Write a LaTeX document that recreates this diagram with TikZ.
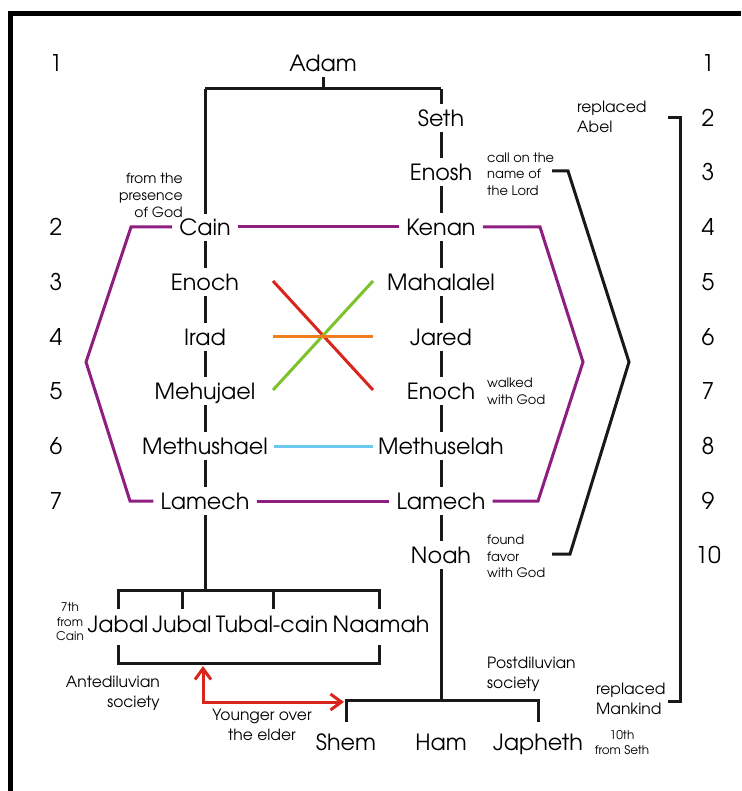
\documentclass[tikz,border=0pt]{standalone}
\usepackage{fontspec}
\setmainfont{TeX Gyre Adventor}
\usetikzlibrary{arrows.meta}
\definecolor{lpurple}{RGB}{142,31,128}
\definecolor{lred}{RGB}{218,37,29}
\definecolor{lgreen}{RGB}{124,194,42}
\definecolor{lorange}{RGB}{240,125,30}
\definecolor{lblue}{RGB}{109,200,240}
\begin{document}
\begin{tikzpicture}[x=1pt,y=-1pt,
  nm/.style={font=\fontsize{22.3}{24}\selectfont, text height=17pt, text depth=0pt, inner xsep=7pt, inner ysep=5.5pt},
  num/.style={font=\fontsize{23}{24}\selectfont, text height=17pt, text depth=0pt, inner sep=0pt},
  note/.style={font=\fontsize{13}{16.5}\selectfont, inner sep=0pt},
  midnote/.style={font=\fontsize{15.5}{20}\selectfont, inner sep=0pt},
  tiny/.style={font=\fontsize{12}{14.5}\selectfont, inner sep=0pt, align=center},
  tree/.style={line width=3pt, black!90},
  fam/.style={line width=3pt, lpurple},
  cross/.style={line width=3pt}
]
\useasboundingbox (0,0) rectangle (741,791);
\fill[white] (0,0) rectangle (741,791);
% frame
\draw[line width=5pt, miter limit=10] (10,791) -- (10,14) -- (741,14);

% side numbers
\foreach \n/\y in {1/63,2/227,3/282,4/337,5/391,6/446,7/501}
  \node[num] (l\n) at (56,\y) {\n};
\foreach \n/\y in {1/63,2/118,3/172,4/227,5/282,6/337,7/391,8/446,9/501,10/555}
  \node[num] (r\n) at (708,\y) {\n};

% names
\node[nm] (adam) at (323,63) {Adam};
\node[nm] (seth) at (441,118) {Seth};
\node[nm] (enosh) at (441,172) {Enosh};
\node[nm] (cain) at (205,227) {Cain};
\node[nm] (kenan) at (441,227) {Kenan};
\node[nm] (enochL) at (205,282) {Enoch};
\node[nm] (mahalalel) at (441,282) {Mahalalel};
\node[nm] (irad) at (205,337) {Irad};
\node[nm] (jared) at (441,337) {Jared};
\node[nm] (mehujael) at (205,391) {Mehujael};
\node[nm] (enochR) at (441,391) {Enoch};
\node[nm] (methushael) at (205,446) {Methushael};
\node[nm] (methuselah) at (441,446) {Methuselah};
\node[nm] (lamechL) at (205,501) {Lamech};
\node[nm] (lamechR) at (441,501) {Lamech};
\node[nm] (noah) at (441,555) {Noah};
\node[nm, inner xsep=0pt] (jabal) at (118,624) {Jabal};
\node[nm, inner xsep=0pt] (jubal) at (182,624) {Jubal};
\node[nm, inner xsep=0pt] (tubal) at (272,624) {Tubal-cain};
\node[nm, inner xsep=0pt] (naamah) at (381,624) {Naamah};
\node[nm] (shem) at (346,742) {Shem};
\node[nm] (ham) at (441,742) {Ham};
\node[nm] (japheth) at (538,742) {Japheth};

% notes
\node[note, align=right, anchor=east, font=\fontsize{14}{17}\selectfont] (presence) at (183,195) {from the\\presence\\of God};
\node[note, align=left, anchor=west] (callon) at (487,174) {call on the\\name of\\the Lord};
\node[midnote, align=left, anchor=west] (abel) at (577,117) {replaced\\Abel};
\node[note, align=left, anchor=west] (walked) at (487,391.5) {walked\\with God};
\node[note, align=left, anchor=west] (favor) at (487,556.5) {found\\favor\\with God};
\node[tiny] (seventh) at (70,622) {7th\\from\\Cain};
\node[midnote, align=right, anchor=east] (ante) at (160,693) {Antediluvian\\society};
\node[midnote, align=center] (younger) at (262,725) {Younger over\\the elder};
\node[midnote, align=left, anchor=west] (post) at (487,674) {Postdiluvian\\society};
\node[midnote, align=left, anchor=west] (mankind) at (596,699) {replaced\\Mankind};
\node[tiny] (tenth) at (622,742.5) {10th\\from Seth};

% Adam's branches
\coordinate (top) at (323,89);
\coordinate (tl) at (205,89);
\coordinate (tr) at (441,89);
\draw[tree] (adam.south) -- (top);
\draw[tree] (tl) -- (tr);
\draw[tree] (tl) -- ([yshift=-1pt]cain.north);
\draw[tree] (tr) -- (seth.north);

% Cain's line
\draw[tree] (cain.south) -- (enochL.north);
\draw[tree] (enochL.south) -- (irad.north);
\draw[tree] (irad.south) -- (mehujael.north);
\draw[tree] (mehujael.south) -- (methushael.north);
\draw[tree] (methushael.south) -- (lamechL.north);
\coordinate (lj) at (205,590);
\draw[tree] (lamechL.south) -- (lj);
\coordinate (b1) at (118,590);
\coordinate (b2) at (379,590);
\draw[tree] (118,609) -- (b1) -- (b2) -- (379,609);
\draw[tree] (182,590) -- (182,609);
\draw[tree] (273,590) -- (273,609);
\draw[tree] (118,645) -- (118,663) -- (379,663) -- (379,645);

% Seth's line
\draw[tree] (seth.south) -- (enosh.north);
\draw[tree] (enosh.south) -- (kenan.north);
\draw[tree] (kenan.south) -- (mahalalel.north);
\draw[tree] (mahalalel.south) -- (jared.north);
\draw[tree] (jared.south) -- (enochR.north);
\draw[tree] (enochR.south) -- (methuselah.north);
\draw[tree] (methuselah.south) -- (lamechR.north);
\draw[tree] (lamechR.south) -- (noah.north);
\coordinate (nj) at (441,700);
\draw[tree] (noah.south) -- (nj);
\draw[tree] (346,722) -- (346,700) -- (538,700) -- (538,722);

% purple hexagon
\draw[fam] (cain.west) -- (131,227) -- (86,362) -- (130,501) -- (lamechL.west);
\draw[fam] (cain.east) -- (kenan.west);
\draw[fam] (kenan.east) -- (540,227) -- (583,362) -- (538,501) -- (lamechR.east);
\draw[fam] (lamechL.east) -- (lamechR.west);

% crossing lines
\draw[cross, lred] (273,281) -- (373,390);
\draw[cross, lgreen] (273,390) -- (373,281);
\draw[cross, lorange] (273,336) -- (373,336);
\draw[cross, lblue] (274,446) -- (373,446);

% brackets on the right
\draw[tree, line join=miter] (552,171) -- (568,171) -- (629,362) -- (570,554) -- (552,554);
\draw[tree, line join=miter] (668,118) -- (680,118) -- (680,701) -- (668,701);

% younger over the elder arrow
\draw[line width=3pt, lred, {Straight Barb[length=11pt,width=16pt]}-{Straight Barb[length=11pt,width=16pt]}]
  (203,666) -- (203,702) -- (344,702);
\end{tikzpicture}
\end{document}
